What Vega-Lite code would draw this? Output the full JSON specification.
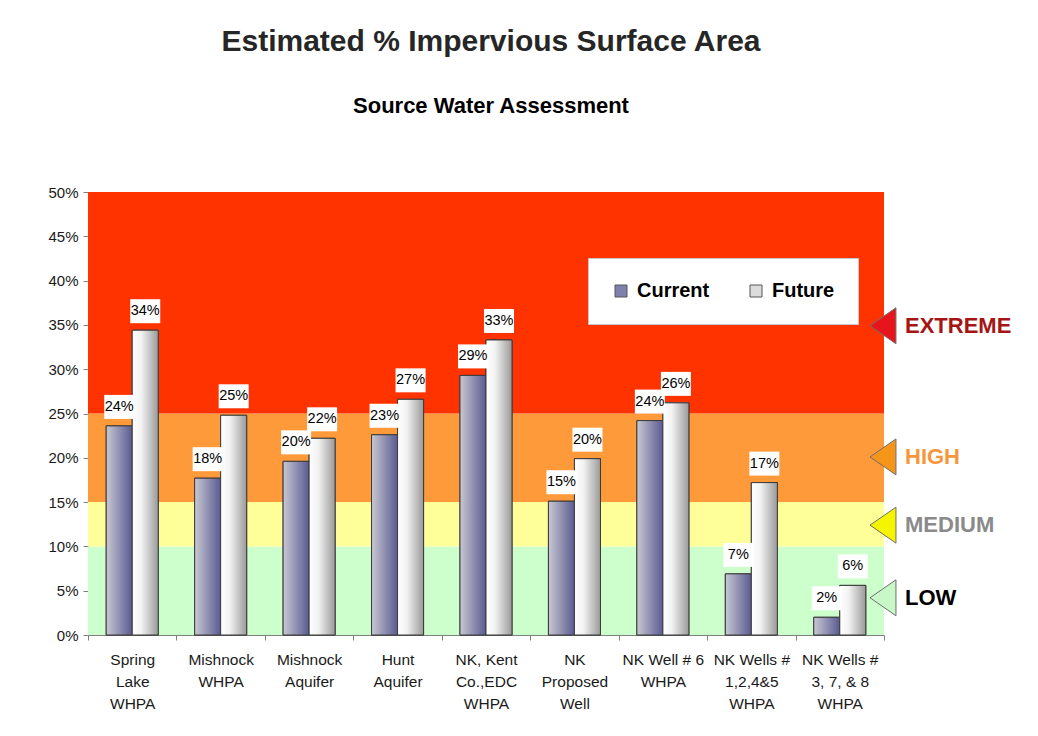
{
  "$schema": "https://vega.github.io/schema/vega-lite/v6.json",
  "background": "white",
  "padding": {"left": 47, "top": 27, "right": 8, "bottom": 5},
  "bounds": "flush",
  "spacing": 0,
  "title": {
    "text": "Estimated % Impervious Surface Area",
    "subtitle": "Source Water Assessment",
    "anchor": "middle",
    "dx": -48,
    "font": "Liberation Sans",
    "fontSize": 30,
    "fontWeight": "bold",
    "color": "#262626",
    "subtitleFont": "Liberation Sans",
    "subtitleFontSize": 22,
    "subtitleFontWeight": "bold",
    "subtitleColor": "#000000",
    "subtitlePadding": 39,
    "offset": 68
  },
  "config": {"font": "Liberation Sans", "view": {"stroke": null}},
  "datasets": {
    "bars": [
      {"site": "Spring\nLake\nWHPA", "series": "Current", "value": 0.236},
      {"site": "Spring\nLake\nWHPA", "series": "Future", "value": 0.344},
      {"site": "Mishnock\nWHPA", "series": "Current", "value": 0.177},
      {"site": "Mishnock\nWHPA", "series": "Future", "value": 0.248},
      {"site": "Mishnock\nAquifer", "series": "Current", "value": 0.196},
      {"site": "Mishnock\nAquifer", "series": "Future", "value": 0.222},
      {"site": "Hunt\nAquifer", "series": "Current", "value": 0.226},
      {"site": "Hunt\nAquifer", "series": "Future", "value": 0.266},
      {"site": "NK, Kent\nCo.,EDC\nWHPA", "series": "Current", "value": 0.293},
      {"site": "NK, Kent\nCo.,EDC\nWHPA", "series": "Future", "value": 0.333},
      {"site": "NK\nProposed\nWell", "series": "Current", "value": 0.151},
      {"site": "NK\nProposed\nWell", "series": "Future", "value": 0.199},
      {"site": "NK Well # 6\nWHPA", "series": "Current", "value": 0.242},
      {"site": "NK Well # 6\nWHPA", "series": "Future", "value": 0.262},
      {"site": "NK Wells #\n1,2,4&5\nWHPA", "series": "Current", "value": 0.069},
      {"site": "NK Wells #\n1,2,4&5\nWHPA", "series": "Future", "value": 0.172},
      {"site": "NK Wells #\n3, 7, & 8\nWHPA", "series": "Current", "value": 0.020},
      {"site": "NK Wells #\n3, 7, & 8\nWHPA", "series": "Future", "value": 0.056}
    ],
    "bands": [
      {"band": "LOW", "lo": 0, "hi": 0.10},
      {"band": "MEDIUM", "lo": 0.10, "hi": 0.15},
      {"band": "HIGH", "lo": 0.15, "hi": 0.25},
      {"band": "EXTREME", "lo": 0.25, "hi": 0.50}
    ],
    "levels": [
      {"level": "EXTREME", "pos": 0.349},
      {"level": "HIGH", "pos": 0.201},
      {"level": "MEDIUM", "pos": 0.124},
      {"level": "LOW", "pos": 0.042}
    ]
  },
  "resolve": {
    "scale": {"color": "independent", "fill": "independent", "x": "independent", "y": "independent"},
    "legend": {"color": "independent", "fill": "independent"}
  },
  "hconcat": [
    {
      "width": 796,
      "height": 443,
      "layer": [
        {
          "data": {"name": "bands"},
          "mark": {"type": "rect"},
          "encoding": {
            "y": {
              "field": "lo", "type": "quantitative",
              "scale": {"domain": [0, 0.5], "nice": false, "zero": true},
              "axis": {
                "values": [0, 0.05, 0.1, 0.15, 0.2, 0.25, 0.3, 0.35, 0.4, 0.45, 0.5],
                "format": ".0%", "title": null, "grid": false,
                "domainColor": "#808080", "tickColor": "#808080", "tickSize": 5,
                "labelFontSize": 15, "labelColor": "#1a1a1a", "labelPadding": 5
              }
            },
            "y2": {"field": "hi"},
            "fill": {
              "field": "band", "type": "nominal",
              "scale": {"domain": ["LOW", "MEDIUM", "HIGH", "EXTREME"], "range": ["#ccffcc", "#ffff99", "#ff9a3a", "#ff3300"]},
              "legend": null
            }
          }
        },
        {
          "data": {"name": "bars"},
          "mark": {"type": "bar", "stroke": "#3a3a3a", "strokeWidth": 1},
          "encoding": {
            "x": {
              "field": "site", "type": "nominal", "sort": null,
              "scale": {"type": "band", "paddingInner": 0, "paddingOuter": 0},
              "axis": {
                "title": null, "labelAngle": 0, "tickBand": "extent", "labelOverlap": false,
                "labelExpr": "split(datum.label, '\\n')",
                "labelFontSize": 15.5, "labelLineHeight": 22, "labelColor": "#1a1a1a", "labelPadding": 12,
                "domainColor": "#808080", "tickColor": "#808080", "tickSize": 5
              }
            },
            "xOffset": {"field": "series", "type": "nominal", "scale": {"type": "band", "domain": ["Current", "Future"], "paddingInner": 0, "paddingOuter": 0.7}},
            "y": {"field": "value", "type": "quantitative"},
            "color": {
              "field": "series", "type": "nominal",
              "scale": {"domain": ["Current", "Future"], "range": ["#8080b0", "#dcdcdc"]},
              "legend": {
                "orient": "none", "legendX": 500, "legendY": 66, "direction": "horizontal",
                "title": null, "symbolType": "square", "symbolSize": 144,
                "symbolStrokeColor": "#555555", "symbolStrokeWidth": 1, "symbolOpacity": 1,
                "labelFontSize": 20, "labelFontWeight": "bold", "labelColor": "#000000",
                "fillColor": "#ffffff", "strokeColor": "#c8c8c8",
                "padding": 23, "columnPadding": 36, "labelOffset": 6
              }
            }
          }
        },
        {
          "data": {"name": "bars"},
          "transform": [{"filter": "datum.series === 'Current'"}],
          "mark": {
            "type": "bar", "stroke": "#3a3a3a", "strokeWidth": 1,
            "fill": {"gradient": "linear", "x1": 0, "y1": 0, "x2": 1, "y2": 0,
              "stops": [{"offset": 0, "color": "#c8c8d2"}, {"offset": 1, "color": "#5a5a92"}]}
          },
          "encoding": {
            "x": {"field": "site", "type": "nominal", "sort": null},
            "xOffset": {"field": "series", "type": "nominal", "scale": {"type": "band", "domain": ["Current", "Future"], "paddingInner": 0, "paddingOuter": 0.7}},
            "y": {"field": "value", "type": "quantitative"}
          }
        },
        {
          "data": {"name": "bars"},
          "transform": [{"filter": "datum.series === 'Future'"}],
          "mark": {
            "type": "bar", "stroke": "#3a3a3a", "strokeWidth": 1,
            "fill": {"gradient": "linear", "x1": 0, "y1": 0, "x2": 1, "y2": 0,
              "stops": [{"offset": 0, "color": "#ffffff"}, {"offset": 0.35, "color": "#f2f2f2"}, {"offset": 1, "color": "#9a9a9a"}]}
          },
          "encoding": {
            "x": {"field": "site", "type": "nominal", "sort": null},
            "xOffset": {"field": "series", "type": "nominal", "scale": {"type": "band", "domain": ["Current", "Future"], "paddingInner": 0, "paddingOuter": 0.7}},
            "y": {"field": "value", "type": "quantitative"}
          }
        },
        {
          "data": {"name": "bars"},
          "mark": {"type": "point", "shape": "M-1,-0.8H1V0.8H-1Z", "size": 900, "filled": true, "fill": "#ffffff", "opacity": 1, "yOffset": -19},
          "encoding": {
            "x": {"field": "site", "type": "nominal", "sort": null},
            "xOffset": {"field": "series", "type": "nominal"},
            "y": {"field": "value", "type": "quantitative"}
          }
        },
        {
          "data": {"name": "bars"},
          "mark": {"type": "text", "fontSize": 14.5, "baseline": "middle", "align": "center", "color": "#000000", "yOffset": -19},
          "encoding": {
            "x": {"field": "site", "type": "nominal", "sort": null},
            "xOffset": {"field": "series", "type": "nominal"},
            "y": {"field": "value", "type": "quantitative"},
            "text": {"field": "value", "type": "quantitative", "format": ".0%"}
          }
        }
      ]
    },
    {
      "width": 146,
      "height": 443,
      "data": {"name": "levels"},
      "layer": [
        {
          "mark": {"type": "point", "filled": true, "shape": "M-0.72,0L0.72,-1L0.72,1Z", "size": 1296, "stroke": "#6e6e6e", "strokeWidth": 1, "opacity": 1},
          "encoding": {
            "x": {"datum": -1, "type": "quantitative", "scale": {"domain": [0, 146], "nice": false, "zero": false}, "axis": null},
            "y": {"field": "pos", "type": "quantitative", "scale": {"domain": [0, 0.5], "nice": false}, "axis": null},
            "fill": {
              "field": "level", "type": "nominal",
              "scale": {"domain": ["EXTREME", "HIGH", "MEDIUM", "LOW"], "range": ["#e8141b", "#f5961a", "#f5f500", "#c8f8c8"]},
              "legend": null
            }
          }
        },
        {
          "mark": {"type": "text", "align": "left", "baseline": "middle", "fontSize": 22, "fontWeight": "bold"},
          "encoding": {
            "x": {"datum": 21, "type": "quantitative"},
            "y": {"field": "pos", "type": "quantitative"},
            "text": {"field": "level"},
            "color": {
              "field": "level", "type": "nominal",
              "scale": {"domain": ["EXTREME", "HIGH", "MEDIUM", "LOW"], "range": ["#a51515", "#f7963c", "#8a8a8a", "#000000"]},
              "legend": null
            }
          }
        }
      ]
    }
  ]
}
